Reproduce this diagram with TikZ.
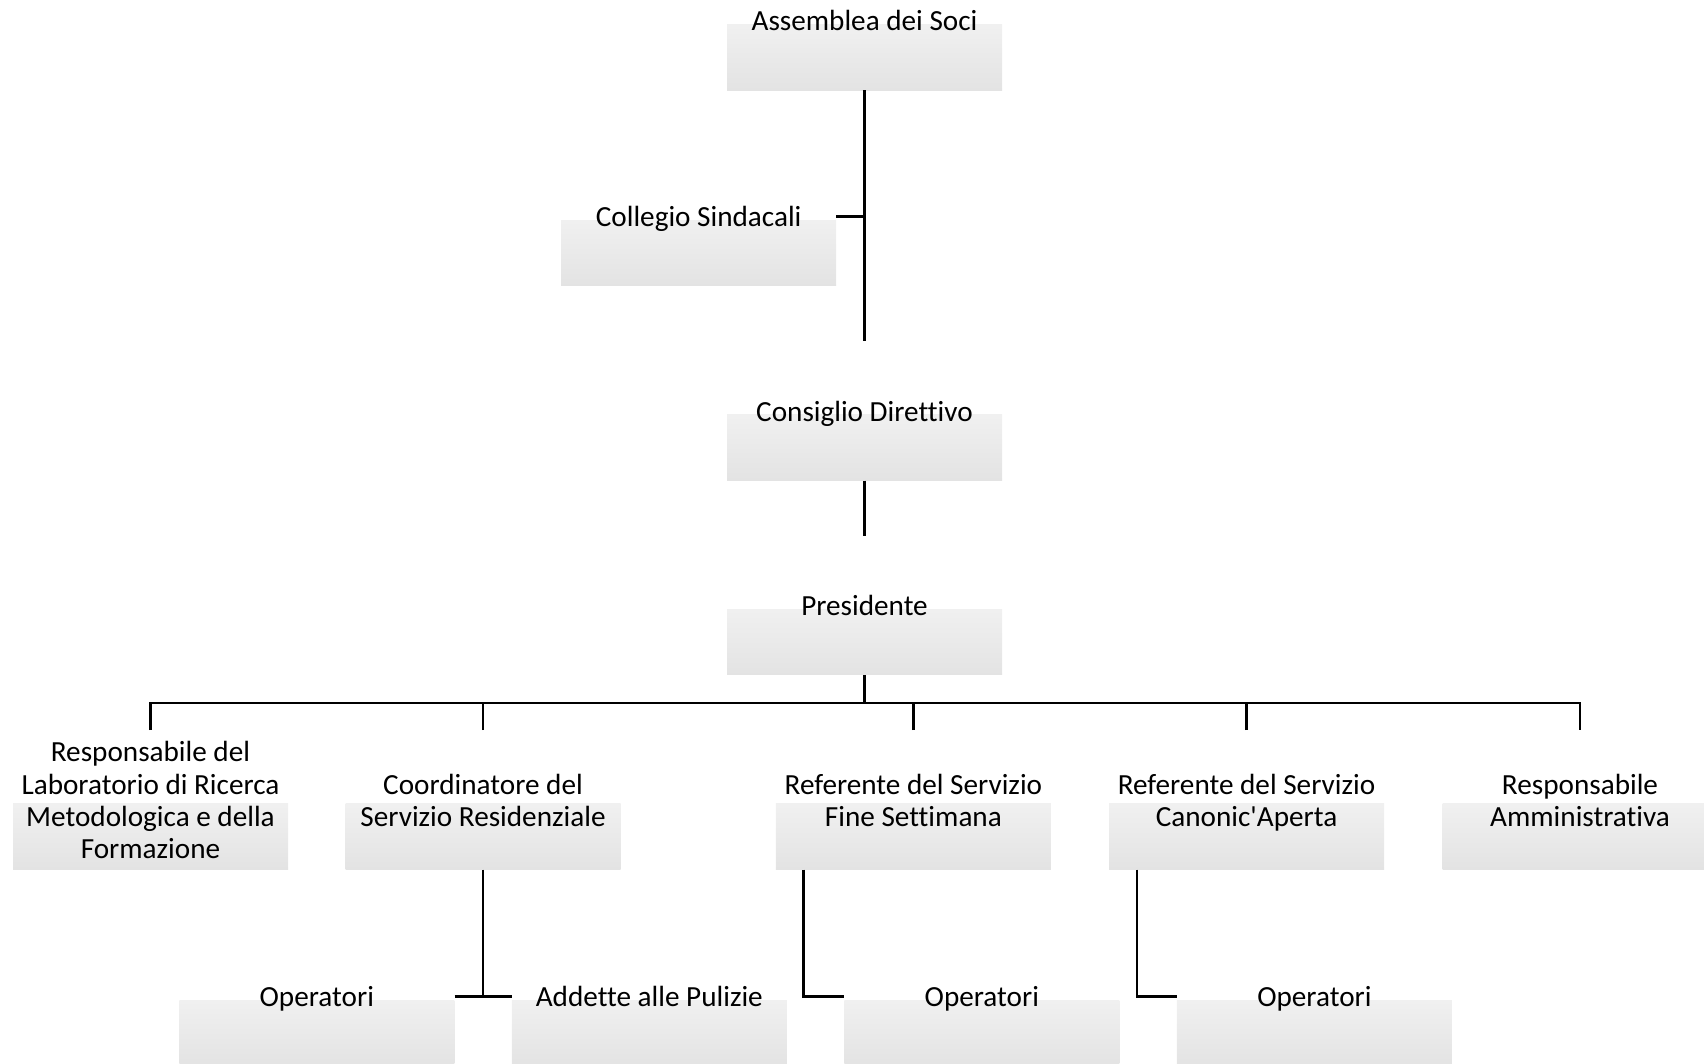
\documentclass[tikz,border=0pt]{standalone}
\usepackage{fontspec}
\newfontfamily\carlito{Carlito}[Ligatures=NoCommon]
\definecolor{boxgrey}{HTML}{E3E3E3}
\newcommand{\boxfont}{\carlito\fontsize{29.2}{32.3}\selectfont}
\newcommand{\bl}[1]{\rule{0pt}{20.5pt}\smash{#1}}
\tikzset{
  orgbox/.style={minimum width=275pt, minimum height=139pt, inner sep=0pt,
    align=center, font=\boxfont, fill=white,
    path picture={\shade[top color=white, bottom color=boxgrey]
      ([yshift=-4pt]path picture bounding box.west) rectangle (path picture bounding box.south east);}},
  conn/.style={draw=black, line width=2.6pt}
}
\begin{document}
\begin{tikzpicture}[x=1pt,y=-1pt]
\useasboundingbox (0,0) rectangle (1704,1064);
\clip (0,0) rectangle (1704,1064);
% level nodes
\node[orgbox] (ass)  at (864.5,20.7) {\bl{Assemblea dei Soci}};
\node[orgbox] (coll) at (698.7,216.3) {\bl{Collegio Sindacali}};
\node[orgbox] (cons) at (864.5,410.8) {\bl{Consiglio Direttivo}};
\node[orgbox] (pres) at (864.5,605.3) {\bl{Presidente}};
% second row
\node[orgbox] (r1) at (150.5,799.9) {\bl{Responsabile del}\\\bl{Laboratorio di Ricerca}\\\bl{Metodologica e della}\\\bl{Formazione}};
\node[orgbox] (r2) at (483,799.9) {\bl{Coordinatore del}\\\bl{Servizio Residenziale}};
\node[orgbox] (r3) at (913.4,799.9) {\bl{Referente del Servizio}\\\bl{Fine Settimana}};
\node[orgbox] (r4) at (1246.5,799.9) {\bl{Referente del Servizio}\\\bl{Canonic'Aperta}};
\node[orgbox] (r5) at (1580,799.9) {\bl{Responsabile}\\\bl{Amministrativa}};
% third row
\node[orgbox] (op1) at (316.8,996.5) {\bl{Operatori}};
\node[orgbox] (add) at (649.3,996.5) {\bl{Addette alle Pulizie}};
\node[orgbox] (op2) at (981.8,996.5) {\bl{Operatori}};
\node[orgbox] (op3) at (1314.4,996.5) {\bl{Operatori}};
% connectors
\coordinate (bar) at (0,703);
\draw[conn] (ass.south) -- (cons.north);
\draw[conn] (coll.east) -- (ass.south |- coll.east);
\draw[conn] (cons.south) -- (pres.north);
\draw[conn] (pres.south) -- (pres.south |- bar);
\draw[conn] (r1.north) -- (r1.north |- bar) -- (r5.north |- bar) -- (r5.north);
\draw[conn] (r2.north) -- (r2.north |- bar);
\draw[conn] (r3.north) -- (r3.north |- bar);
\draw[conn] (r4.north) -- (r4.north |- bar);
\draw[conn] (r2.south) -- (r2.south |- op1.east);
\draw[conn] (op1.east) -- (add.west);
\draw[conn] ([xshift=28pt]r3.south west) |- (op2.west);
\draw[conn] ([xshift=28pt]r4.south west) |- (op3.west);
\end{tikzpicture}
\end{document}
